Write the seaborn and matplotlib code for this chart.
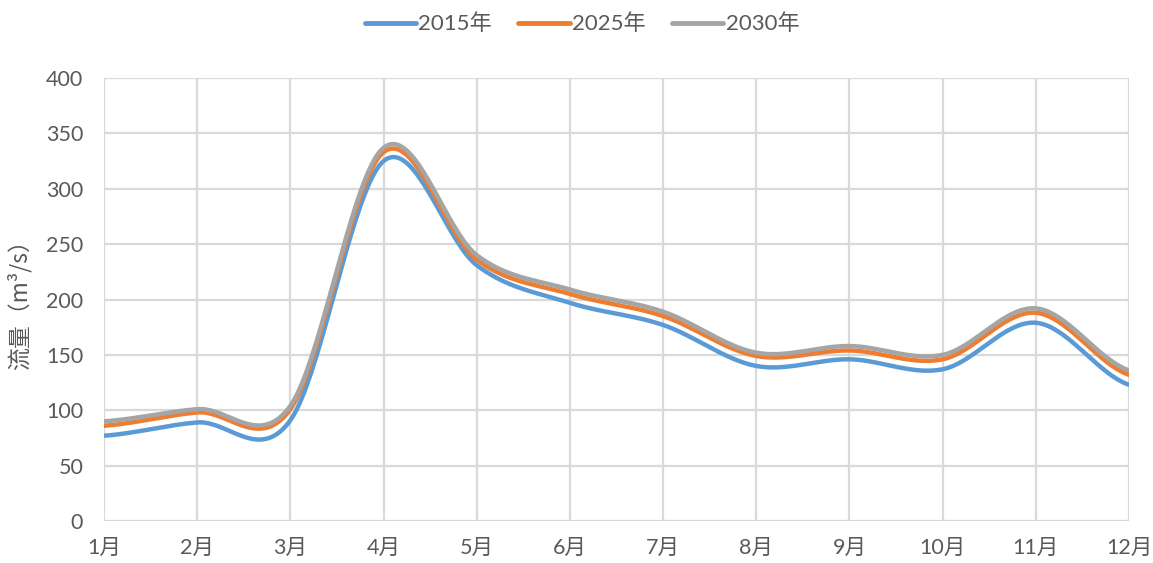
import numpy as np
import pandas as pd
import matplotlib
matplotlib.use("Agg")
import matplotlib.pyplot as plt
import seaborn as sns

months = ["1月", "2月", "3月", "4月", "5月", "6月", "7月", "8月", "9月", "10月", "11月", "12月"]
flow_2015 = [77, 89, 91, 325, 231, 197, 177, 140, 146, 137, 179, 123]
flow_2025 = [86, 98, 101, 333, 236, 205, 185, 149, 154, 146, 188, 132]
flow_2030 = [90, 101, 104, 337, 240, 209, 189, 152, 158, 150, 192, 136]
series_names = ["2015年", "2025年", "2030年"]
colors = ["#5B9BD5", "#ED7D31", "#A5A5A5"]
y_ticks = [0, 50, 100, 150, 200, 250, 300, 350, 400]


def smooth_curve(values, steps=40):
    """Catmull-Rom style Bezier smoothing through every point (as in office charts)."""
    v = np.asarray(values, dtype=float)
    n = len(v)
    xs, ys = [], []
    for i in range(n - 1):
        p_prev = v[i - 1] if i > 0 else v[i]
        p0, p1 = v[i], v[i + 1]
        p_next = v[i + 2] if i + 2 < n else v[i + 1]
        c1 = p0 + (p1 - p_prev) / 6.0
        c2 = p1 - (p_next - p0) / 6.0
        t = np.linspace(0, 1, steps, endpoint=(i == n - 2))
        b = ((1 - t) ** 3) * p0 + 3 * (1 - t) ** 2 * t * c1 + 3 * (1 - t) * t ** 2 * c2 + t ** 3 * p1
        xs.append(i + t)
        ys.append(b)
    return np.concatenate(xs), np.concatenate(ys)


frames = []
for name, vals in zip(series_names, [flow_2015, flow_2025, flow_2030]):
    xs, ys = smooth_curve(vals)
    frames.append(pd.DataFrame({"x": xs, "flow": ys, "series": name}))
df = pd.concat(frames, ignore_index=True)

sns.set_theme(style="white")
plt.rcParams["font.family"] = ["Lato", "Noto Sans CJK SC", "DejaVu Sans"]

fig = plt.figure(figsize=(11.53, 5.63), dpi=100)
ax = fig.add_axes([104 / 1153, 1 - 521 / 563, (1129 - 104) / 1153, (521 - 78) / 563])

sns.lineplot(data=df, x="x", y="flow", hue="series", palette=colors,
             linewidth=3.2, ax=ax, legend=True, sort=False)

ax.set_xlim(0, 11)
ax.set_ylim(0, 400)
ax.set_xticks(range(12))
ax.set_xticklabels(months)
ax.set_yticks(y_ticks)
ax.set_yticklabels([str(t) for t in y_ticks])
ax.tick_params(axis="both", length=0, labelsize=15.5, labelcolor="#595959")
ax.tick_params(axis="y", pad=15)
ax.tick_params(axis="x", pad=12)
for s in ax.spines.values():
    s.set_visible(False)
ax.grid(True, color="#D9D9D9", linewidth=1.6)
ax.set_axisbelow(True)
ax.set_xlabel("")
ax.set_ylabel("流量（m³/s）", fontsize=16.5, color="#595959", labelpad=10,
              family=["Noto Sans CJK SC", "DejaVu Sans"])

handles, labels = ax.get_legend_handles_labels()
for h in handles:
    h.set_linewidth(3.5)
ax.legend(handles, labels, loc="center", bbox_to_anchor=(582 / 1153, 1 - 24 / 563),
          bbox_transform=fig.transFigure, ncol=3, frameon=False, fontsize=16,
          handlelength=2.3, handletextpad=0.1, columnspacing=1.2,
          labelcolor="#595959")

fig.savefig("out.png", dpi=100)
